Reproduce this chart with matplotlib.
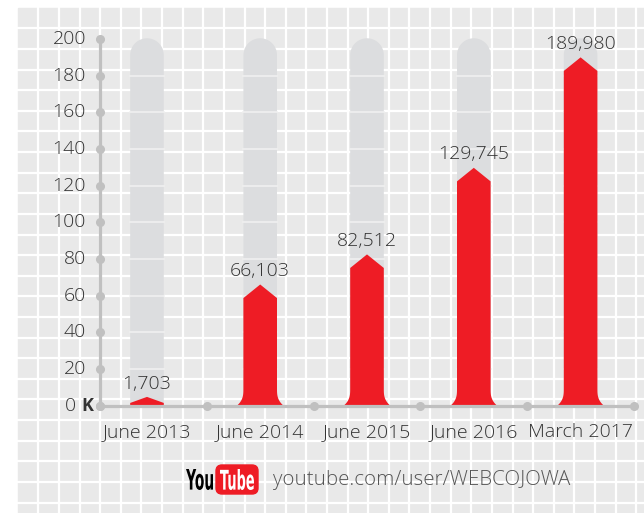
#!/usr/bin/env python
# coding=utf-8

import numpy as np
import matplotlib
matplotlib.use("Agg")
import matplotlib.pyplot as plt
from matplotlib.patches import Polygon, Rectangle, FancyBboxPatch, PathPatch
from matplotlib.textpath import TextPath
from matplotlib.font_manager import FontProperties
from matplotlib.transforms import Affine2D

periods = ["June 2013", "June 2014", "June 2015", "June 2016", "March 2017"]
subscribers = [1703, 66103, 82512, 129745, 189980]
ytick_values = [0, 20, 40, 60, 80, 100, 120, 140, 160, 180, 200]

RED = "#ee1c25"
PILL = "#dcdddf"
BG = "#e9e9e9"
TXT = "#333333"
AXIS = "#c0c0c0"

plt.rcParams['font.family'] = ['Open Sans', 'DejaVu Sans']


def fitted_text(axis, s, box, color, z):
    # condensed logo lettering: squeeze a bold text outline into a pixel box
    p = TextPath((0, 0), s, size=20, prop=FontProperties(family="DejaVu Sans", weight="bold"))
    ext = p.get_extents()
    x0, y0, x1, y1 = box
    tr = (Affine2D().translate(-ext.x0, -ext.y0)
          .scale((x1 - x0) / ext.width, -(y1 - y0) / ext.height)
          .translate(x0, y1))
    axis.add_patch(PathPatch(tr.transform_path(p), color=color, lw=0, zorder=z))


W, H = 644, 513
fig = plt.figure(figsize=(W / 100, H / 100), dpi=100)

# background in pixel coordinates
bg = fig.add_axes([0, 0, 1, 1])
bg.set_xlim(0, W)
bg.set_ylim(H, 0)
bg.axis("off")
bg.add_patch(Rectangle((18, 8), W - 18, H - 8, color=BG, zorder=0))
for gx in np.arange(38.3, W, 20.62):
    bg.plot([gx, gx], [8, H], color="white", lw=1.6, zorder=1)
for gy in np.arange(28.3, H, 20.62):
    bg.plot([18, W], [gy, gy], color="white", lw=1.6, zorder=1)

# main chart: x unit = one category slot, y in thousands
ax = fig.add_axes([0, 0, 1, 1])
ax.patch.set_alpha(0)
ax.axis("off")
x0px, xstep = 100.0, 106.8
y0px, ystep = 405.7, 1.8335
ax.set_xlim(-x0px / xstep, (W - x0px) / xstep)
ax.set_ylim((y0px - H) / ystep, y0px / ystep)

xs = np.arange(len(periods)) + 0.5
xs[0] = 0.44
hw = 16.8 / xstep          # half bar width
rx, ry = hw, 16.8 / ystep  # cap radius
fl, fh = 6.5 / xstep, 17 / ystep

for c, v in zip(xs, subscribers):
    k = v / 1000.0
    # gray pill behind
    top = 200.4 - ry
    t = np.linspace(0, np.pi, 40)
    pts = [(c - hw, 0), (c + hw, 0), (c + hw, top)]
    pts += list(zip(c + rx * np.cos(t), top + ry * np.sin(t)))
    pts += [(c - hw, top)]
    ax.add_patch(Polygon(pts, closed=True, color=PILL, lw=0, zorder=2))
    for yv in ytick_values[1:-1]:
        ax.plot([c - hw, c + hw], [yv, yv], color="#f0f0f0", lw=1.2, zorder=3)

    # red bar with pointed top and flared foot
    peak = max(k, 4.8)
    sh = max(peak - 7.4, 1.5)
    if sh > fh:
        s = np.linspace(0, 1, 20)
        left = list(zip(c - hw - fl * (1 - s) ** 3, fh * s))
        right = list(zip(c + hw + fl * (1 - s[::-1]) ** 3, fh * s[::-1]))
        pts = left + [(c - hw, sh), (c, peak), (c + hw, sh)] + right
    else:
        pts = [(c - hw, 0), (c - hw, sh), (c, peak), (c + hw, sh), (c + hw, 0)]
    ax.add_patch(Polygon(pts, closed=True, color=RED, lw=0, zorder=4))
    ax.annotate("{:,}".format(v), (c, peak), xytext=(0, 6), textcoords="offset points",
                ha="center", va="baseline", fontsize=14, color=TXT,
                fontweight="light", zorder=6)

# axes lines and dots
ax.plot([0, 0], [0, 200], color=AXIS, lw=2.3, zorder=5, solid_capstyle="butt")
ax.plot([0, 5], [0, 0], color=AXIS, lw=2.3, zorder=5, solid_capstyle="butt")
ax.plot(np.zeros(len(ytick_values)), ytick_values, "o", color=AXIS, ms=5.5, zorder=5)
ax.plot(np.arange(6), np.zeros(6), "o", color=AXIS, ms=5.5, zorder=5)

lx = (86 - x0px) / xstep
for yv in ytick_values[1:]:
    ax.text(lx, yv, str(yv), ha="right", va="center", fontsize=14,
            color=TXT, fontweight="light")
ax.text((76 - x0px) / xstep, 0, "0", ha="right", va="center", fontsize=14,
        color=TXT, fontweight="light")
ax.text((81 - x0px) / xstep, 0, "K", ha="left", va="center", fontsize=13,
        color=TXT, fontweight="bold")

for c, name in zip(xs, periods):
    ax.text(c, (y0px - 432) / ystep, name, ha="center", va="center",
            fontsize=14, color=TXT, fontweight="light")

# footer with logo
fitted_text(bg, "You", (186, 469, 213, 490), "black", 5)
bg.add_patch(FancyBboxPatch((216, 465), 42, 29, boxstyle="round,pad=0,rounding_size=6",
                            color=RED, zorder=5))
fitted_text(bg, "Tube", (220, 469, 254, 490), "white", 6)
bg.text(273, 480, "youtube.com/user/WEBCOJOWA", ha="left", va="center",
        fontsize=14.8, color="#555555", fontweight="light", zorder=5)

fig.savefig("out.png", dpi=100)
